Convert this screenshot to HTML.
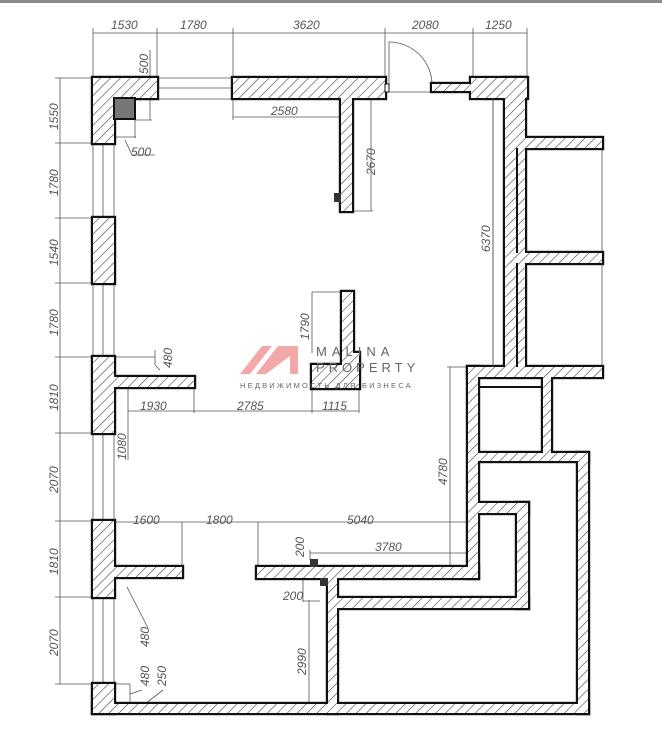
<!DOCTYPE html>
<html><head><meta charset="utf-8"><style>
html,body{margin:0;padding:0;background:#fff;}
svg{display:block;}
text{font-family:"Liberation Sans",sans-serif;font-style:italic;fill:#555;font-size:12px;}
</style></head><body>
<svg width="662" height="732" viewBox="0 0 662 732" xmlns="http://www.w3.org/2000/svg">
<defs>
<pattern id="h" patternUnits="userSpaceOnUse" width="7" height="7" patternTransform="rotate(45)">
<rect width="7" height="7" fill="#fff"/><line x1="0" y1="0" x2="0" y2="7" stroke="#444" stroke-width="1.2"/>
</pattern>
<g id="walls">
<path d="M93,78 H157 V98 H114 V143 H93 Z"/>
<rect x="93" y="218" width="21" height="65"/>
<rect x="93" y="357" width="21" height="76"/>
<rect x="114" y="377" width="80" height="10"/>
<rect x="93" y="521" width="21" height="76"/>
<rect x="114" y="567" width="68" height="10"/>
<rect x="93" y="684" width="21" height="29"/>
<rect x="93" y="704" width="495" height="9"/>
<rect x="233" y="78" width="152" height="20"/>
<rect x="341" y="98" width="11" height="113"/>
<rect x="432" y="84" width="39" height="7"/>
<path d="M342,292 H353 V353 H359 V388 H312 V365 H342 Z"/>
<rect x="471" y="78" width="56" height="20"/>
<rect x="505" y="78" width="20" height="289"/>
<rect x="525" y="138" width="77" height="10"/>
<rect x="525" y="253" width="77" height="10"/>
<rect x="468" y="367" width="134" height="10"/>
<rect x="468" y="367" width="10" height="211"/>
<rect x="543" y="377" width="8" height="76"/>
<rect x="478" y="453" width="110" height="8"/>
<rect x="578" y="453" width="10" height="260"/>
<rect x="257" y="567" width="221" height="11"/>
<rect x="478" y="503" width="50" height="10"/>
<rect x="517" y="503" width="11" height="105"/>
<rect x="337" y="598" width="191" height="10"/>
<rect x="328" y="578" width="9" height="135"/>
</g>
</defs>
<rect x="0" y="0" width="662" height="3" fill="#8a8a8a"/>

<g stroke="#555" stroke-width="0.8" fill="none">
<line x1="93" y1="33" x2="527" y2="33"/>
<line x1="93" y1="28" x2="93" y2="78"/><line x1="157" y1="28" x2="157" y2="78"/><line x1="233" y1="28" x2="233" y2="78"/>
<line x1="385" y1="28" x2="385" y2="78"/><line x1="473" y1="28" x2="473" y2="78"/><line x1="527" y1="28" x2="527" y2="78"/>
<line x1="60" y1="78" x2="60" y2="684"/>
<line x1="55" y1="78" x2="93" y2="78"/><line x1="55" y1="143" x2="93" y2="143"/><line x1="55" y1="218" x2="93" y2="218"/>
<line x1="55" y1="283" x2="93" y2="283"/><line x1="55" y1="357" x2="93" y2="357"/><line x1="55" y1="433" x2="93" y2="433"/>
<line x1="55" y1="521" x2="93" y2="521"/><line x1="55" y1="597" x2="93" y2="597"/><line x1="55" y1="684" x2="93" y2="684"/>
<line x1="103" y1="143" x2="103" y2="218"/><line x1="103" y1="283" x2="103" y2="357"/><line x1="103" y1="433" x2="103" y2="521"/><line x1="103" y1="597" x2="103" y2="684"/>
<line x1="93" y1="143" x2="93" y2="218"/><line x1="114" y1="143" x2="114" y2="218"/>
<line x1="93" y1="283" x2="93" y2="357"/><line x1="114" y1="283" x2="114" y2="357"/>
<line x1="93" y1="433" x2="93" y2="521"/><line x1="114" y1="433" x2="114" y2="521"/>
<line x1="93" y1="597" x2="93" y2="684"/><line x1="114" y1="597" x2="114" y2="684"/>
<line x1="157" y1="78" x2="233" y2="78"/><line x1="157" y1="88" x2="233" y2="88"/><line x1="157" y1="99" x2="233" y2="99"/>
<line x1="150" y1="50" x2="150" y2="120"/><line x1="135" y1="120" x2="152" y2="120"/><line x1="114" y1="137" x2="136" y2="137"/><line x1="135" y1="119" x2="135" y2="138"/>
<line x1="125" y1="140" x2="132" y2="155"/><line x1="132" y1="155" x2="155" y2="155"/>
<line x1="233" y1="117" x2="341" y2="117"/><line x1="233" y1="98" x2="233" y2="120"/>
<line x1="371" y1="98" x2="371" y2="211"/><line x1="352" y1="211" x2="373" y2="211"/>
<line x1="493" y1="98" x2="493" y2="367"/>
<line x1="389" y1="42" x2="389" y2="84"/><path d="M389,42 A43,43 0 0 1 432,84"/>
<line x1="388" y1="92" x2="432" y2="92"/>
<line x1="450" y1="367" x2="450" y2="567"/><line x1="447" y1="367" x2="468" y2="367"/>
<line x1="312" y1="292" x2="312" y2="353"/><line x1="312" y1="292" x2="342" y2="292"/>
<line x1="114" y1="357" x2="155" y2="357"/><line x1="155" y1="350" x2="155" y2="365"/><line x1="155" y1="365" x2="160" y2="370"/>
<line x1="128" y1="411" x2="359" y2="411"/><line x1="194" y1="387" x2="194" y2="413"/><line x1="312" y1="388" x2="312" y2="413"/><line x1="359" y1="388" x2="359" y2="413"/>
<line x1="128" y1="387" x2="128" y2="460"/>
<line x1="114" y1="522" x2="468" y2="522"/><line x1="182" y1="522" x2="182" y2="567"/><line x1="258" y1="522" x2="258" y2="567"/>
<line x1="310" y1="553" x2="468" y2="553"/><line x1="310" y1="550" x2="310" y2="560"/>
<line x1="303" y1="567" x2="303" y2="602"/><line x1="303" y1="601" x2="320" y2="601"/>
<line x1="309" y1="600" x2="309" y2="704"/>
<line x1="127" y1="587" x2="148" y2="628"/><line x1="114" y1="684" x2="130" y2="684"/><line x1="130" y1="684" x2="130" y2="704"/>
<line x1="130" y1="694" x2="142" y2="690"/><line x1="145" y1="704" x2="163" y2="690"/>
<line x1="602" y1="148" x2="602" y2="253"/><line x1="602" y1="263" x2="602" y2="367"/>
</g>

<!-- walls: black outline pass, then hatch fill pass -->
<use href="#walls" fill="#111" stroke="#111" stroke-width="4.4"/>
<use href="#walls" fill="url(#h)" stroke="none"/>

<g stroke="#111" stroke-width="2" fill="none">
<line x1="478" y1="387" x2="543" y2="387"/>
<line x1="517" y1="148" x2="517" y2="253"/><line x1="517" y1="263" x2="517" y2="367"/>
</g>
<line x1="493" y1="98" x2="493" y2="367" stroke="#555" stroke-width="0.8"/>
<rect x="114" y="98" width="21" height="21" fill="#777" stroke="#111" stroke-width="2"/>
<rect x="385" y="84" width="4" height="8" fill="#fff" stroke="#111" stroke-width="1"/>
<rect x="334" y="193" width="7" height="9" fill="#333"/>
<rect x="310" y="559" width="8" height="8" fill="#333"/>
<rect x="320" y="578" width="8" height="8" fill="#333"/>

<g fill="#f29a9a" opacity="0.85">
<polygon points="240,374 262,346 272,346 250,374"/>
<polygon points="256,374 278,346 298,346 298,374 290,374 290,356 266,374"/>
</g>
<text x="316" y="356" style="font-style:normal;font-size:13px;letter-spacing:5px;fill:#666">MALINA</text>
<text x="316" y="372" style="font-style:normal;font-size:13px;letter-spacing:4px;fill:#666">PROPERTY</text>
<text x="240" y="388" style="font-style:normal;font-size:7.5px;letter-spacing:2.2px;fill:#666">НЕДВИЖИМОСТЬ ДЛЯ БИЗНЕСА</text>

<text x="111" y="29">1530</text><text x="180" y="29">1780</text><text x="293" y="29">3620</text><text x="412" y="29">2080</text><text x="485" y="29">1250</text>
<text x="271" y="115">2580</text>
<text x="131" y="156">500</text>
<g>
<text transform="translate(148,74) rotate(-90)">500</text>
<text transform="translate(375,175) rotate(-90)">2670</text>
<text transform="translate(490,252) rotate(-90)">6370</text>
<text transform="translate(447,485) rotate(-90)">4780</text>
<text transform="translate(309,340) rotate(-90)">1790</text>
<text transform="translate(172,368) rotate(-90)">480</text>
<text transform="translate(126,460) rotate(-90)">1080</text>
<text transform="translate(304,557) rotate(-90)">200</text>
<text transform="translate(306,675) rotate(-90)">2990</text>
<text transform="translate(149,647) rotate(-90)">480</text>
<text transform="translate(149,686) rotate(-90)">480</text>
<text transform="translate(166,686) rotate(-90)">250</text>
<text transform="translate(58,130) rotate(-90)">1550</text>
<text transform="translate(58,196) rotate(-90)">1780</text>
<text transform="translate(58,266) rotate(-90)">1540</text>
<text transform="translate(58,336) rotate(-90)">1780</text>
<text transform="translate(58,411) rotate(-90)">1810</text>
<text transform="translate(58,493) rotate(-90)">2070</text>
<text transform="translate(58,575) rotate(-90)">1810</text>
<text transform="translate(58,656) rotate(-90)">2070</text>
</g>
<text x="140" y="410">1930</text><text x="237" y="410">2785</text><text x="322" y="410">1115</text>
<text x="133" y="524">1600</text><text x="206" y="524">1800</text><text x="347" y="524">5040</text>
<text x="375" y="551">3780</text>
<text x="283" y="600">200</text>
</svg>
</body></html>
